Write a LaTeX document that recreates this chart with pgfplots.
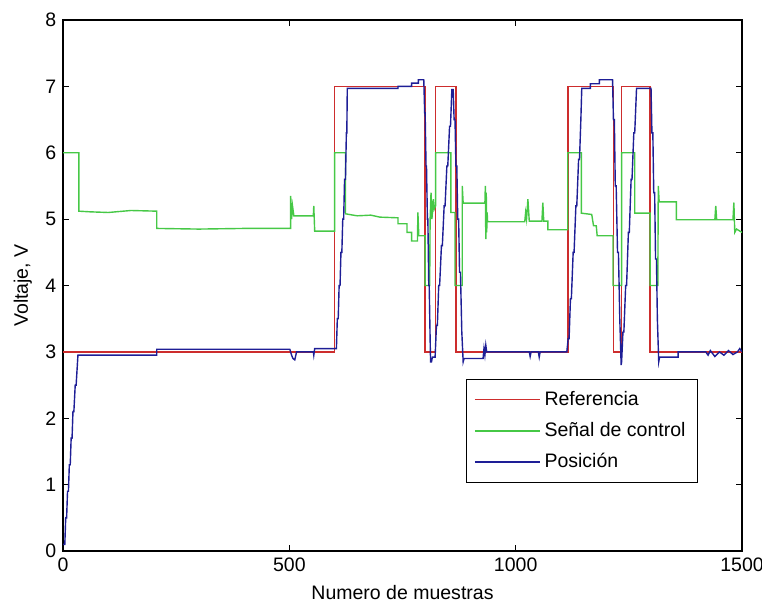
\documentclass[border=0pt]{standalone}
\usepackage{fontspec}
\setmainfont{Liberation Sans}
\usepackage{pgfplots}
\pgfplotsset{compat=1.18}
\definecolor{refred}{RGB}{205,45,45}
\definecolor{ctrlgreen}{RGB}{70,200,70}
\definecolor{posblue}{RGB}{30,30,150}
\begin{document}
\fontsize{9.75}{11.5}\selectfont
\begin{tikzpicture}
\begin{axis}[
  name=ax,
  scale only axis,
  width=339.5pt, height=265.5pt,
  xmin=0, xmax=1500, ymin=0, ymax=8,
  xtick={0,500,1000,1500},
  ytick={0,1,2,3,4,5,6,7,8},
  tick align=inside,
  major tick length=3pt,
  axis line style={line width=0.6pt},
  every tick/.style={black, line width=0.5pt},
  /pgf/number format/assume math mode=true,
  /pgf/number format/set thousands separator={},
  tick label style={font=\fontsize{9.75}{11.5}\selectfont},
  label style={font=\fontsize{9.75}{11.5}\selectfont},
  xlabel={Numero de muestras},
  ylabel={Voltaje, V},
  legend style={at={(0.935,0.128)}, anchor=south east, draw=black,
    font=\fontsize{9.75}{11.5}\selectfont, row sep=3pt, inner xsep=4pt, inner ysep=4pt,
    cells={anchor=west}},
  legend cell align=left,
  legend image post style={xscale=1.9},
  clip=true,
]
\addplot[refred, line width=0.7pt] coordinates {
(0,3)(600,3)(600,7)(800,7)(800,3)(823,3)(823,7)(868,7)(868,3)(1116,3)(1116,7)(1216,7)(1216,3)(1234,3)(1234,7)(1297,7)(1297,3)(1500,3)
};
\addlegendentry{Referencia}
\addplot[ctrlgreen, line width=0.7pt] coordinates {
(0,6)(35,6)(35,5.12)(60,5.11)(100,5.1)(150,5.13)(207,5.12)(207,4.86)(300,4.85)(400,4.86)(503,4.86)(503,5.35)(505,5.0)(507,5.2)(510,5.05)(515,5.05)(553,5.05)(554,5.2)(556,4.82)(600,4.82)(600,6.0)(624,6.0)(624,5.08)(650,5.05)(680,5.06)(700,5.03)(740,5.02)(740,4.93)(760,4.93)(760,4.8)(770,4.8)(770,4.67)(783,4.67)(784,5.1)(786,4.75)(800,4.75)(800,4.0)(810,4.0)(811,5.0)(813,5.4)(815,5.0)(818,5.3)(820,5.15)(823,5.2)(823,6.0)(857,6.0)(857,5.1)(866,5.1)(866,4.0)(882,4.0)(882,5.5)(884,5.24)(932,5.24)(933,5.5)(934,4.7)(935,5.4)(936,4.8)(937,5.1)(938,4.96)(1020,4.96)(1022,5.1)(1024,5.0)(1027,5.3)(1030,4.97)(1058,4.97)(1060,5.25)(1062,4.97)(1071,4.97)(1071,4.84)(1115,4.84)(1115,6.0)(1145,6.0)(1145,5.09)(1168,5.07)(1172,4.9)(1178,4.9)(1180,4.75)(1215,4.75)(1215,4.0)(1234,4.0)(1234,6.0)(1263,6.0)(1263,5.09)(1297,5.09)(1297,4.0)(1314,4.0)(1315,5.5)(1317,5.26)(1355,5.26)(1355,4.99)(1440,4.99)(1442,5.2)(1444,4.99)(1480,4.99)(1482,5.25)(1484,4.8)(1488,4.85)(1500,4.8)
};
\addlegendentry{Señal de control}
\addplot[posblue, line width=0.7pt] coordinates {
(0,0.1)(4,0.1)(6,0.5)(8,0.5)(10,0.9)(12,0.9)(14,1.3)(16,1.3)(18,1.7)(20,1.7)(22,2.1)(24,2.1)(27,2.5)(29,2.5)(33,2.95)(207,2.95)(207,3.04)(501,3.04)(505,2.95)(508,2.9)(512,2.88)(516,3.0)(553,3.0)(554,2.95)(556,3.05)(604,3.05)
(606,3.5)(608,3.5)(610,4.0)(612,4.0)(614,4.5)(616,4.5)(618,5.0)(620,5.0)(622,5.6)(624,5.6)(626,6.3)(627,6.3)(628,6.97)(740,6.97)(740,7.0)(770,7.0)(770,7.05)(785,7.05)(785,7.1)(797,7.1)
(799,6.6)(800,6.6)(802,5.8)(803,5.8)(805,5.0)(806,5.0)(808,4.0)(809,4.0)(811,3.2)(812,2.85)(814,2.85)(816,2.92)(822,2.92)
(825,3.4)(827,3.4)(830,4.0)(832,4.0)(836,4.6)(838,4.6)(842,5.2)(844,5.2)(848,5.8)(850,5.8)(854,6.4)(856,6.4)(859,6.95)(862,6.95)
(864,6.5)(866,6.5)(868,5.8)(870,5.8)(872,5.0)(874,5.0)(876,4.2)(878,4.2)(881,3.3)(884,2.85)(886,2.9)(928,2.9)(930,3.05)(932,2.95)(934,3.1)(936,3.0)(1030,3.0)(1032,2.93)(1034,3.0)(1050,3.0)(1052,2.92)(1054,3.0)(1113,3.0)
(1116,3.2)(1118,3.2)(1121,3.8)(1123,3.8)(1127,4.5)(1129,4.5)(1133,5.2)(1135,5.2)(1139,5.9)(1141,5.9)(1144,6.5)(1146,6.97)(1165,6.97)(1165,7.04)(1185,7.04)(1185,7.1)(1214,7.1)
(1216,6.5)(1218,6.5)(1220,5.5)(1222,5.5)(1225,4.5)(1227,4.5)(1230,3.5)(1233,2.8)(1234,2.85)
(1237,3.3)(1239,3.3)(1243,4.0)(1245,4.0)(1249,4.8)(1251,4.8)(1255,5.6)(1257,5.6)(1261,6.3)(1263,6.3)(1267,6.97)(1299,6.97)
(1301,6.3)(1303,6.3)(1305,5.4)(1307,5.4)(1309,4.4)(1311,4.4)(1313,3.5)(1316,2.85)(1318,2.92)(1359,2.92)(1359,3.0)(1420,3.0)(1425,2.95)(1430,3.02)(1440,2.93)(1450,3.0)(1460,2.95)(1470,3.02)(1480,2.96)(1490,3.0)(1495,3.05)(1500,3.0)
};
\addlegendentry{Posición}
\end{axis}
\pgfresetboundingbox
\path ([shift={(-31.5pt,-28.5pt)}]ax.south west) rectangle ([shift={(10pt,10pt)}]ax.north east);
\end{tikzpicture}
\end{document}
